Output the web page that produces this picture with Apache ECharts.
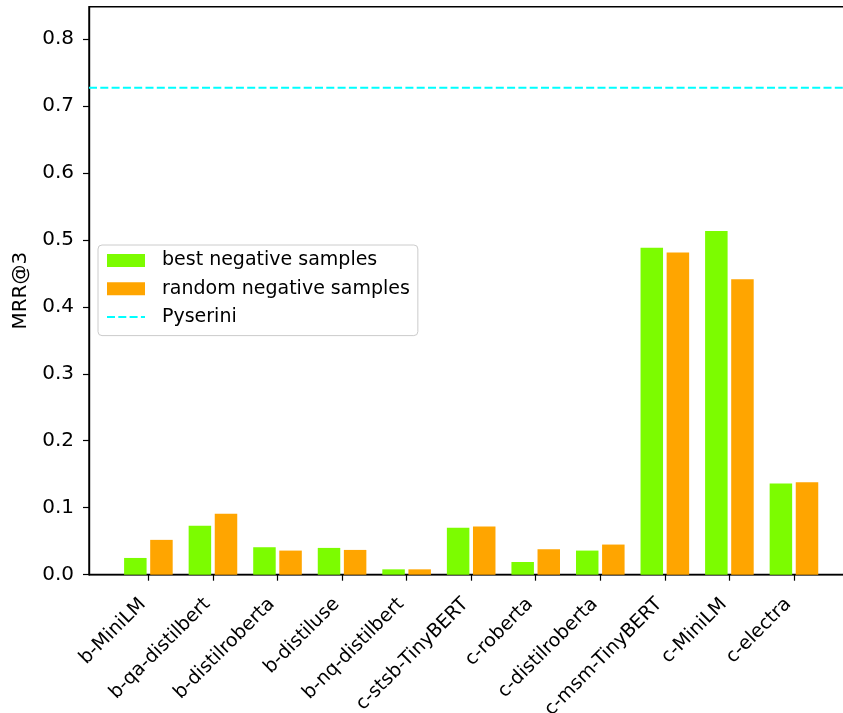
<!DOCTYPE html>
<html>
<head>
<meta charset="utf-8">
<script src="https://cdn.jsdelivr.net/npm/echarts@6/dist/echarts.min.js"></script>
<style>html,body{margin:0;padding:0;background:#fff;}#chart{width:843px;height:713px;}</style>
</head>
<body>
<div id="chart"></div>
<script>
const categories = ['b-MiniLM','b-qa-distilbert','b-distilroberta','b-distiluse','b-nq-distilbert','c-stsb-TinyBERT','c-roberta','c-distilroberta','c-msm-TinyBERT','c-MiniLM','c-electra'];
const bestNegative = [0.025,0.073,0.041,0.040,0.008,0.070,0.019,0.036,0.488,0.513,0.136];
const randomNegative = [0.052,0.091,0.036,0.037,0.008,0.072,0.038,0.045,0.481,0.441,0.138];
const pyseriniScore = 0.727;
const yTicks = [0,0.1,0.2,0.3,0.4,0.5,0.6,0.7,0.8];
const seriesNames = ['best negative samples','random negative samples','Pyserini'];

const xMin = -0.92, xMax = 10.91;
const catIdx = categories.map((c,i)=>i);
const font = 'DejaVu Sans';

const chart = echarts.init(document.getElementById('chart'), null, {renderer:'canvas'});
chart.setOption({
  animation:false,
  backgroundColor:'#fff',
  grid:{left:89, top:6.7, width:763.7, height:568, outerBoundsMode:'none', containLabel:false,
    show:true, borderColor:'#000', borderWidth:1.4, backgroundColor:'transparent'},
  legend:{
    orient:'vertical', left:98, top:245,
    padding:[6,8,9,8], itemGap:9.3, itemWidth:38, itemHeight:13,
    backgroundColor:'rgba(255,255,255,0.8)', borderColor:'#cccccc', borderWidth:1, borderRadius:4,
    textStyle:{fontFamily:font, fontSize:19, color:'#000', padding:[0,0,0,12]},
    data:[{name:seriesNames[0], icon:'rect'},{name:seriesNames[1], icon:'rect'},
      {name:seriesNames[2], itemStyle:{opacity:0}}]
  },
  xAxis:{
    type:'value', min:xMin, max:xMax,
    splitLine:{show:false},
    axisLine:{show:true, onZero:false, lineStyle:{color:'#000', width:1.4}},
    axisTick:{show:true, inside:false, length:6, lineStyle:{color:'#000', width:1.2}, customValues:catIdx},
    axisLabel:{customValues:catIdx, formatter:v=>categories[Math.round(v)], rotate:45, margin:21, padding:[0,8,0,0],
      fontFamily:font, fontSize:19, color:'#000'}
  },
  yAxis:{
    type:'value', min:0, max:0.848,
    name:'MRR@3', nameLocation:'middle', nameGap:55, nameRotate:90,
    nameTextStyle:{fontFamily:font, fontSize:20, color:'#000'},
    splitLine:{show:false},
    axisLine:{show:true, onZero:false, lineStyle:{color:'#000', width:1.4}},
    axisTick:{show:true, inside:false, length:6, lineStyle:{color:'#000', width:1.2}, customValues:yTicks},
    axisLabel:{customValues:yTicks, formatter:v=>v.toFixed(1), margin:15, fontFamily:font, fontSize:20, color:'#000'}
  },
  series:[
    {name:seriesNames[0], type:'bar', barWidth:22.5, barGap:'16%', itemStyle:{color:'#7CFC00'},
      data:catIdx.map(i=>[i,bestNegative[i]])},
    {name:seriesNames[1], type:'bar', barWidth:22.5, barGap:'16%', itemStyle:{color:'#FFA500'},
      data:catIdx.map(i=>[i,randomNegative[i]])},
    {name:seriesNames[2], type:'line', symbol:'none', showSymbol:false,
      lineStyle:{color:'#00FFFF', width:2.2, type:[8,3.3]}, itemStyle:{color:'#00FFFF'},
      data:[[xMin,pyseriniScore],[xMax,pyseriniScore]]}
  ]
});
</script>
</body>
</html>
